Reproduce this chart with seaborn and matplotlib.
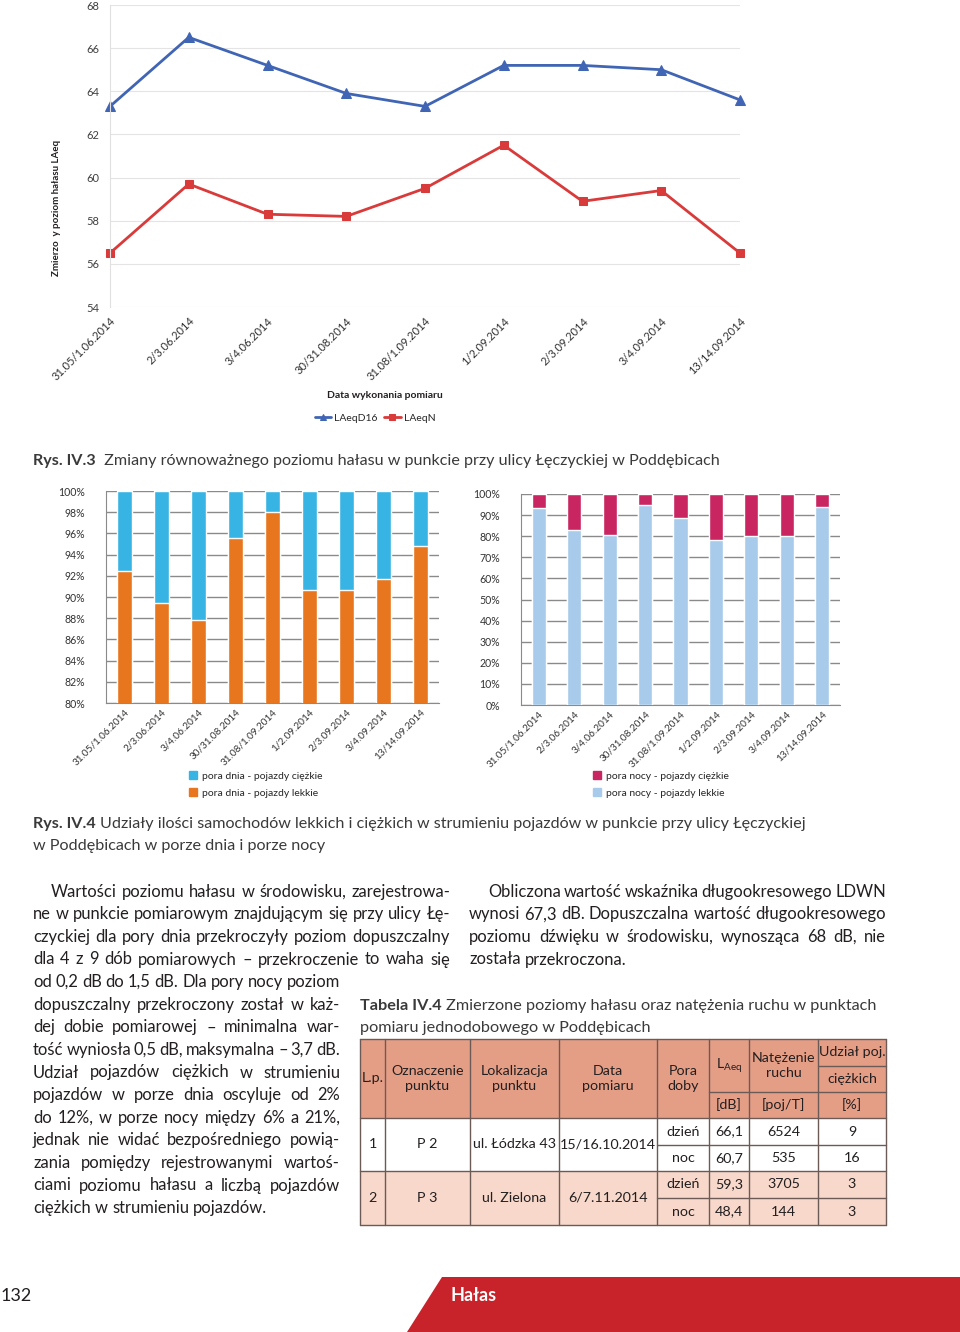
import numpy as np
import pandas as pd
import seaborn as sns
import matplotlib.pyplot as plt
from matplotlib.patches import Polygon, Rectangle, Patch
from matplotlib import font_manager

W, H = 960, 1332

# --- data ---
dates = ['31.05/1.06.2014', '2/3.06.2014', '3/4.06.2014', '30/31.08.2014',
         '31.08/1.09.2014', '1/2.09.2014', '2/3.09.2014', '3/4.09.2014', '13/14.09.2014']
laeq_d16 = [63.3, 66.5, 65.2, 63.9, 63.3, 65.2, 65.2, 65.0, 63.6]
laeq_n = [56.5, 59.7, 58.3, 58.2, 59.5, 61.5, 58.9, 59.4, 56.5]
day_light = [92.5, 89.4, 87.8, 95.6, 98.0, 90.7, 90.7, 91.7, 94.8]
night_light = [93.5, 83.0, 80.5, 95.0, 88.5, 78.0, 80.0, 80.0, 94.0]
total = [100] * len(dates)

tab_lp = ['1', '2']
tab_point = ['P 2', 'P 3']
tab_loc = ['ul. Łódzka 43', 'ul. Zielona']
tab_date = ['15/16.10.2014', '6/7.11.2014']
tab_pora = ['dzień', 'noc', 'dzień', 'noc']
tab_laeq = ['66,1', '60,7', '59,3', '48,4']
tab_ruch = ['6524', '535', '3705', '144']
tab_udzial = ['9', '16', '3', '3']

left_text = [
    'Wartości poziomu hałasu w środowisku, zarejestrowa-',
    'ne w punkcie pomiarowym znajdującym się przy ulicy Łę-',
    'czyckiej dla pory dnia przekroczyły  poziom dopuszczalny',
    'dla 4 z 9 dób pomiarowych – przekroczenie to waha się',
    'od 0,2 dB do 1,5 dB. Dla pory nocy poziom',
    'dopuszczalny przekroczony został w każ-',
    'dej dobie pomiarowej – minimalna war-',
    'tość wyniosła 0,5 dB, maksymalna – 3,7 dB.',
    'Udział pojazdów ciężkich w strumieniu',
    'pojazdów w porze dnia oscyluje od 2%',
    'do 12%, w porze nocy między 6% a 21%,',
    'jednak nie widać bezpośredniego powią-',
    'zania pomiędzy rejestrowanymi wartoś-',
    'ciami poziomu hałasu a liczbą pojazdów',
    'ciężkich w strumieniu pojazdów.',
]
right_text = [
    'Obliczona wartość wskaźnika długookresowego LDWN',
    'wynosi 67,3 dB. Dopuszczalna wartość długookresowego',
    'poziomu dźwięku w środowisku, wynosząca 68 dB, nie',
    'została przekroczona.',
]

sns.set_style('white')
installed = {f.name for f in font_manager.fontManager.ttflist}
BODY = 'Lato' if 'Lato' in installed else 'DejaVu Sans'
plt.rcParams['font.family'] = [BODY, 'DejaVu Sans']

BLUE = '#4065b4'
RED = '#d93a3a'
CYAN = '#38b4e4'
ORANGE = '#e8761f'
CRIMSON = '#c92560'
PALE = '#a9cbeb'
INK = '#231f20'
CAP = '#3a3a3a'

fig = plt.figure(figsize=(W / 100, H / 100), dpi=100)
page = fig.add_axes([0, 0, 1, 1])
page.set_xlim(0, W)
page.set_ylim(H, 0)
page.axis('off')
rend = fig.canvas.get_renderer()


def px_axes(x0, y0, x1, y1):
    a = fig.add_axes([x0 / W, 1 - y1 / H, (x1 - x0) / W, (y1 - y0) / H])
    a.set_facecolor('none')
    return a


def wid(t):
    return t.get_window_extent(renderer=rend).width


def fit_size(s, target, size=12, weight='normal'):
    t = page.text(0, 0, s, fontsize=size, fontweight=weight)
    w_ = wid(t)
    t.remove()
    return size * target / w_


def put_line(x0, x1, y, s, size, justify=True, color=INK):
    words = s.split()
    arts = [page.text(x0, y, w_, va='baseline', fontsize=size, color=color) for w_ in words]
    ws = [wid(a) for a in arts]
    gap = 0.25 * size * 100 / 72
    if justify and len(words) > 1:
        gap = (x1 - x0 - sum(ws)) / (len(words) - 1)
    x = x0
    for a, w_ in zip(arts, ws):
        a.set_x(x)
        x += w_ + gap


def put_runs(x, y, parts, size, color=CAP):
    for txt, weight in parts:
        t = page.text(x, y, txt, va='baseline', fontsize=size, fontweight=weight, color=color)
        x += wid(t)


# --- top line chart ---
ax = px_axes(110, 5, 740, 307)
sns.lineplot(x=dates, y=laeq_d16, sort=False, color=BLUE, marker='^', markersize=7,
             markeredgecolor=BLUE, linewidth=2, label='LAeqD16', ax=ax)
sns.lineplot(x=dates, y=laeq_n, sort=False, color=RED, marker='s', markersize=6,
             markeredgecolor=RED, linewidth=2, label='LAeqN', ax=ax)
for ln in ax.lines:
    ln.set_clip_on(False)
ax.set_xlim(0, 8)
ax.set_ylim(54, 68)
ax.set_yticks(range(54, 69, 2))
ax.grid(axis='y', color='#e4e4e4', lw=0.8)
for sp in ['top', 'right', 'bottom']:
    ax.spines[sp].set_visible(False)
ax.spines['left'].set_color('#e0e0e0')
ax.tick_params(axis='y', labelsize=8, colors='#404040', pad=8, length=0)
ax.tick_params(axis='x', labelsize=8, colors='#303030', pad=6, length=0)
plt.setp(ax.get_xticklabels(), rotation=45, ha='right', rotation_mode='anchor')
ax.set_xlabel('')
ax.set_ylabel('')
ax.legend(loc='center', bbox_to_anchor=(375 / W, 1 - 418 / H), bbox_transform=fig.transFigure,
          ncol=2, frameon=False, fontsize=7.5, handlelength=1.6, columnspacing=0.6,
          handletextpad=0.3, markerscale=0.7)
page.text(57, 208, 'Zmierzo  y poziom hałasu LAeq', rotation=90, ha='center', va='center',
          fontsize=7, fontweight='bold', color=INK)
page.text(385, 395, 'Data wykonania pomiaru', ha='center', va='center', fontsize=7.5,
          fontweight='bold', color=INK)

cap1 = [('Rys. IV.3 ', 'bold'),
        (' Zmiany równoważnego poziomu hałasu w punkcie przy ulicy Łęczyckiej w Poddębicach', 'normal')]
cap_size = fit_size(cap1[0][0] + cap1[1][0], 687, 12)
put_runs(33, 465, cap1, cap_size)


# --- stacked bar charts ---
def bar_chart(x0, x1, y0, y1, top_col, low_col, low_vals, ylo, step):
    b = px_axes(x0, y0, x1, y1)
    sns.barplot(x=dates, y=total, color=top_col, width=0.4, saturation=1, ax=b, zorder=2)
    sns.barplot(x=dates, y=low_vals, color=low_col, width=0.4, saturation=1, ax=b, zorder=3)
    b.set_ylim(ylo, 100)
    b.set_xlim(-0.5, 8.5)
    ticks = np.arange(ylo, 101, step)
    b.set_yticks(ticks)
    b.set_yticklabels([f'{int(t)}%' for t in ticks])
    b.grid(axis='y', color='#8a8a8a', lw=1, zorder=0)
    b.set_axisbelow(True)
    for sp in ['top', 'right']:
        b.spines[sp].set_visible(False)
    for sp in ['left', 'bottom']:
        b.spines[sp].set_color('#8a8a8a')
    b.tick_params(axis='y', labelsize=7.6, colors='#333333', pad=15, length=0)
    b.tick_params(axis='x', labelsize=7.2, colors='#333333', pad=3, length=0)
    plt.setp(b.get_xticklabels(), rotation=45, ha='right', rotation_mode='anchor')
    b.set_xlabel('')
    b.set_ylabel('')
    return b


bar_chart(106, 439, 491, 703, CYAN, ORANGE, day_light, 80, 2)
bar_chart(521, 840, 494, 705, CRIMSON, PALE, night_light, 0, 10)

for xl, hnd in [(180, [Patch(color=CYAN, label='pora dnia - pojazdy ciężkie'),
                       Patch(color=ORANGE, label='pora dnia - pojazdy lekkie')]),
                (584, [Patch(color=CRIMSON, label='pora nocy - pojazdy ciężkie'),
                       Patch(color=PALE, label='pora nocy - pojazdy lekkie')])]:
    fig.legend(handles=hnd, loc='upper left', bbox_to_anchor=(xl / W, 1 - 762 / H), frameon=False,
               fontsize=7.5, handlelength=0.7, handleheight=0.7, labelspacing=0.75, handletextpad=0.5)

cap2 = [('Rys. IV.4 ', 'bold'),
        ('Udziały ilości samochodów lekkich i ciężkich w strumieniu pojazdów w punkcie przy ulicy Łęczyckiej', 'normal')]
cap2_size = fit_size(cap2[0][0] + cap2[1][0], 768, 12)
put_runs(33, 828, cap2, cap2_size)
put_runs(33, 850, [('w Poddębicach w porze dnia i porze nocy', 'normal')], cap2_size)

# --- body text ---
body = fit_size(left_text[0], 394, 12)
for i, s in enumerate(left_text):
    y = 896.7 + i * 22.6
    x0 = 51 if i == 0 else 33
    x1 = 450 if i < 4 else 340
    put_line(x0, x1, y, s, body, justify=(i < len(left_text) - 1))
for i, s in enumerate(right_text):
    y = 896.7 + i * 22.6
    x0 = 488 if i == 0 else 469
    put_line(x0, 886, y, s, body, justify=(i < len(right_text) - 1))

cap3 = [('Tabela IV.4 ', 'bold'),
        ('Zmierzone poziomy hałasu oraz natężenia ruchu w punktach', 'normal')]
cap3_size = fit_size(cap3[0][0] + cap3[1][0], 513, 12)
put_runs(360, 1009.7, cap3, cap3_size)
put_runs(360, 1032.3, [('pomiaru jednodobowego w Poddębicach', 'normal')], cap3_size)

# --- table ---
cols = [360, 385, 470, 559, 657, 709, 749, 818, 886]
rows = [1039, 1066, 1092, 1118, 1145, 1171, 1198, 1225]
HEAD = '#e59e86'
PEACH = '#f7d8cb'
LINE = '#6b5a55'
page.add_patch(Rectangle((cols[0], rows[0]), cols[-1] - cols[0], rows[3] - rows[0], color=HEAD, lw=0))
page.add_patch(Rectangle((cols[0], rows[5]), cols[-1] - cols[0], rows[7] - rows[5], color=PEACH, lw=0))
for c in cols:
    page.plot([c, c], [rows[0], rows[7]], color=LINE, lw=1)
for r in [rows[0], rows[3], rows[5], rows[7]]:
    page.plot([cols[0], cols[-1]], [r, r], color=LINE, lw=1)
page.plot([cols[5], cols[-1]], [rows[2], rows[2]], color=LINE, lw=1)
page.plot([cols[7], cols[-1]], [rows[1], rows[1]], color=LINE, lw=1)
page.plot([cols[4], cols[-1]], [rows[4], rows[4]], color=LINE, lw=1)
page.plot([cols[4], cols[-1]], [rows[6], rows[6]], color=LINE, lw=1)


def cell(ci, y, s, **kw):
    page.text((cols[ci] + cols[ci + 1]) / 2, y, s, ha='center', va='center', fontsize=10.3,
              color=INK, linespacing=1.3, **kw)


hy = (rows[0] + rows[3]) / 2
cell(0, hy, 'L.p.')
cell(1, hy, 'Oznaczenie\npunktu')
cell(2, hy, 'Lokalizacja\npunktu')
cell(3, hy, 'Data\npomiaru')
cell(4, hy, 'Pora\ndoby')
cell(5, (rows[0] + rows[2]) / 2, r'$\mathregular{L_{Aeq}}$')
cell(6, (rows[0] + rows[2]) / 2, 'Natężenie\nruchu')
cell(7, (rows[0] + rows[1]) / 2, 'Udział poj.')
cell(7, (rows[1] + rows[2]) / 2, 'ciężkich')
cell(5, (rows[2] + rows[3]) / 2, '[dB]')
cell(6, (rows[2] + rows[3]) / 2, '[poj/T]')
cell(7, (rows[2] + rows[3]) / 2, '[%]')
for g in range(2):
    gy = (rows[3 + 2 * g] + rows[5 + 2 * g]) / 2
    cell(0, gy, tab_lp[g])
    cell(1, gy, tab_point[g])
    cell(2, gy, tab_loc[g])
    cell(3, gy, tab_date[g])
    for k in range(2):
        j = 2 * g + k
        ry = (rows[3 + j] + rows[4 + j]) / 2
        cell(4, ry, tab_pora[j])
        cell(5, ry, tab_laeq[j])
        cell(6, ry, tab_ruch[j])
        cell(7, ry, tab_udzial[j])

# --- footer ---
page.add_patch(Polygon([(442, 1277), (W, 1277), (W, H), (407, H)], closed=True, color='#c8232b', lw=0))
page.text(451, 1301, 'Hałas', color='white', fontsize=13, fontweight='bold', va='baseline')
page.text(1, 1301, '132', color=INK, fontsize=13, va='baseline')

fig.savefig('out.png', dpi=100)
